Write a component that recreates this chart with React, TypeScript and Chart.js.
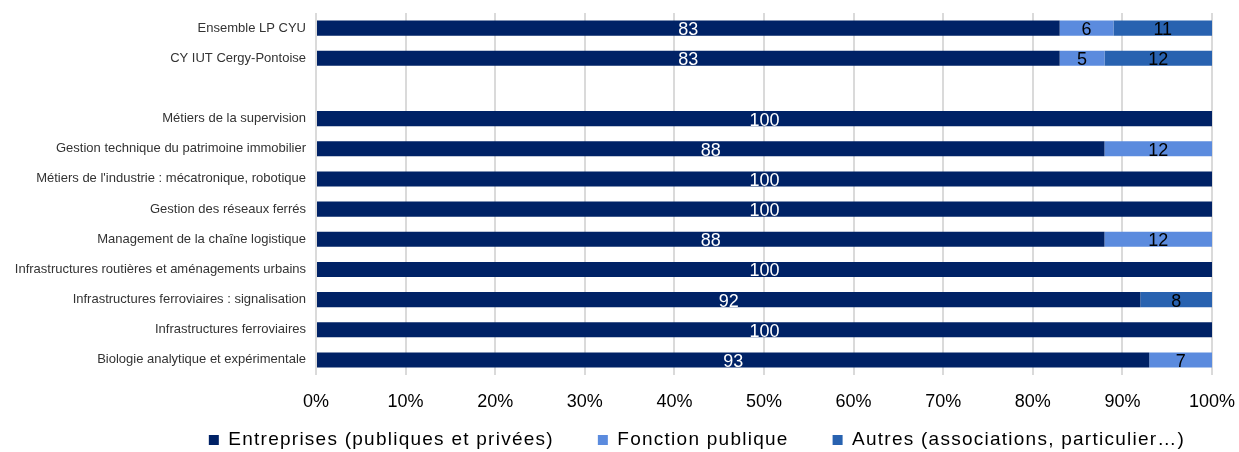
import React, { useEffect, useRef } from "react";
import { Chart, registerables } from "chart.js";

Chart.register(...registerables);

const categories = [
  "Ensemble LP CYU",
  "CY IUT Cergy-Pontoise",
  "",
  "Métiers de la supervision",
  "Gestion technique du patrimoine immobilier",
  "Métiers de l'industrie : mécatronique, robotique",
  "Gestion des réseaux ferrés",
  "Management de la chaîne logistique",
  "Infrastructures routières et aménagements urbains",
  "Infrastructures ferroviaires : signalisation",
  "Infrastructures ferroviaires",
  "Biologie analytique et expérimentale",
];

const entreprises = [83, 83, null, 100, 88, 100, 100, 88, 100, 92, 100, 93];
const fonctionPublique = [6, 5, null, null, 12, null, null, 12, null, null, null, 7];
const autres = [11, 12, null, null, null, null, null, null, null, 8, null, null];

const seriesNames = [
  "Entreprises (publiques et privées)",
  "Fonction publique",
  "Autres (associations, particulier…)",
];
const seriesColors = ["#002266", "#5B8BDE", "#2862B0"];
const labelColors = ["#ffffff", "#000000", "#000000"];

const xTicks = [0, 10, 20, 30, 40, 50, 60, 70, 80, 90, 100];

const FONT = "'Liberation Sans', Arial, sans-serif";
const LEGEND_SPACING = "1.25px";

const legendSpacing = {
  id: "legendSpacing",
  beforeLayout(chart: any) {
    (chart.ctx as any).letterSpacing = LEGEND_SPACING;
  },
  afterLayout(chart: any) {
    (chart.ctx as any).letterSpacing = "0px";
    // let x tick labels render below the (thin) axis box
    chart.scales.x.bottom = chart.height;
    // shift legend to its place in the reference
    if (chart.legend) {
      chart.legend.left += 91;
      chart.legend.right += 91;
    }
  },
  beforeDraw(chart: any) {
    (chart.ctx as any).letterSpacing = LEGEND_SPACING;
  },
  beforeDatasetsDraw(chart: any) {
    (chart.ctx as any).letterSpacing = "0px";
  },
  afterDraw(chart: any) {
    (chart.ctx as any).letterSpacing = "0px";
  },
};

const valueLabels = {
  id: "valueLabels",
  afterDatasetsDraw(chart: any) {
    const ctx = chart.ctx;
    ctx.save();
    (ctx as any).letterSpacing = "0px";
    ctx.font = `18px ${FONT}`;
    ctx.textAlign = "center";
    ctx.textBaseline = "middle";
    chart.data.datasets.forEach((ds: any, di: number) => {
      const meta = chart.getDatasetMeta(di);
      meta.data.forEach((bar: any, i: number) => {
        const v = ds.data[i];
        if (v == null) return;
        const { x, y, base } = bar.getProps(["x", "y", "base"], true);
        ctx.fillStyle = labelColors[di];
        ctx.fillText(String(v), (x + base) / 2, y + 2);
      });
    });
    ctx.restore();
  },
};

export default function App() {
  const ref = useRef<HTMLCanvasElement | null>(null);
  useEffect(() => {
    document.body.style.margin = "0";
    const chart = new Chart(ref.current as HTMLCanvasElement, {
      type: "bar",
      data: {
        labels: categories,
        datasets: [entreprises, fonctionPublique, autres].map((d, i) => ({
          label: seriesNames[i],
          data: d as any,
          backgroundColor: seriesColors[i],
          borderWidth: 0,
          categoryPercentage: 1,
          barPercentage: 0.5,
        })),
      },
      options: {
        indexAxis: "y",
        animation: false,
        responsive: false,
        maintainAspectRatio: false,
        layout: { padding: { top: 13, right: 27, left: 0, bottom: -7.5 } },
        scales: {
          x: {
            stacked: true,
            min: 0,
            max: 100,
            afterBuildTicks: (s: any) => {
              s.ticks = xTicks.map((v) => ({ value: v }));
            },
            afterFit: (s: any) => {
              s.height = 11.5;
              s.paddingLeft = 0;
              s.paddingRight = 0;
            },
            grid: { color: "#dadada", drawTicks: false, lineWidth: 2 },
            border: { display: false },
            ticks: {
              z: 1,
              padding: 16,
              color: "#000000",
              font: { family: FONT, size: 18 },
              callback: (v: any) => v + "%",
            },
          },
          y: {
            stacked: true,
            afterFit: (s: any) => {
              s.width = 316;
              s.paddingTop = 0;
              s.paddingBottom = 0;
            },
            grid: { display: false, drawTicks: false },
            border: { display: false },
            ticks: {
              z: 1,
              padding: 10,
              color: "#333333",
              autoSkip: false,
              font: { family: FONT, size: 13 },
            },
          },
        },
        plugins: {
          legend: {
            position: "bottom",
            labels: {
              boxWidth: 10,
              boxHeight: 10,
              padding: 44,
              color: "#000000",
              font: { family: FONT, size: 19 },
            },
          },
          tooltip: { enabled: false },
        },
      },
      plugins: [legendSpacing, valueLabels],
    });
    return () => chart.destroy();
  }, []);
  return (
    <div style={{ width: 1239, height: 452 }}>
      <canvas ref={ref} width={1239} height={452} style={{ width: 1239, height: 452 }} />
    </div>
  );
}
